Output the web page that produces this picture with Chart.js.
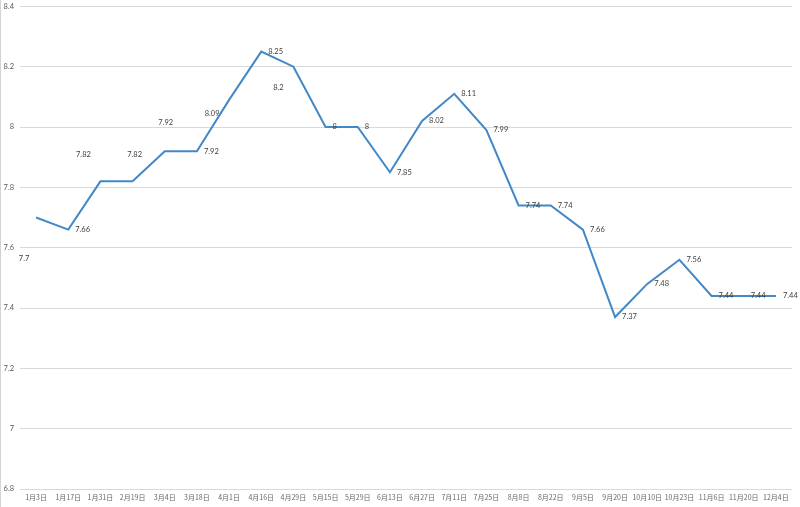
<!DOCTYPE html>
<html>
<head>
<meta charset="utf-8">
<script src="https://cdn.jsdelivr.net/npm/chart.js@4"></script>
<style>
  html, body { margin: 0; padding: 0; background: #fff; }
  canvas { display: block; }
</style>
</head>
<body>
<canvas id="myChart01" width="800" height="507"></canvas>
<script>
const dates = ['1月3日', '1月17日', '1月31日', '2月19日', '3月4日', '3月18日', '4月1日', '4月16日',
    '4月29日', '5月15日', '5月29日', '6月13日', '6月27日', '7月11日', '7月25日', '8月8日',
    '8月22日', '9月5日', '9月20日', '10月10日', '10月23日', '11月6日', '11月20日', '12月4日'];
const rates = [7.7, 7.66, 7.82, 7.82, 7.92, 7.92, 8.09, 8.25, 8.2, 8, 8, 7.85,
    8.02, 8.11, 7.99, 7.74, 7.74, 7.66, 7.37, 7.48, 7.56, 7.44, 7.44, 7.44];
const yTicks = [6.8, 7, 7.2, 7.4, 7.6, 7.8, 8, 8.2, 8.4];

// label placement like the excel chart: most sit to the right, a few are moved
const labelMoves = {
    0: { dx: -12, dy: 41, align: 'center' },
    2: { dx: -17, dy: -27, align: 'center' },
    3: { dx: 2, dy: -27, align: 'center' },
    4: { dx: 1, dy: -29, align: 'center' },
    6: { dx: -17, dy: 14, align: 'center' },
    8: { dx: -15, dy: 21, align: 'center' }
};

const valueLabels = {
    id: 'valueLabels',
    beforeDraw(chart) {
        const c = chart.ctx;
        c.save();
        c.fillStyle = '#d4d4d4';
        c.fillRect(0, 0, 1, chart.height);
        c.restore();
    },
    afterDatasetsDraw(chart) {
        const c = chart.ctx;
        const meta = chart.getDatasetMeta(0);
        c.save();
        c.font = "7.5px Lato";
        c.fillStyle = '#404040';
        c.textBaseline = 'middle';
        meta.data.forEach((pt, i) => {
            const m = labelMoves[i] || { dx: 7, dy: 0, align: 'left' };
            c.textAlign = m.align;
            c.fillText(String(rates[i]), pt.x + m.dx, pt.y + m.dy);
        });
        c.restore();
    }
};

const ctx01 = document.getElementById('myChart01').getContext('2d');
const myChart01 = new Chart(ctx01, {
    type: 'line',
    data: {
        labels: dates,
        datasets: [
            {
                label: 'rate',
                data: rates,
                borderColor: '#4388c6',
                backgroundColor: '#4388c6',
                borderWidth: 2,
                pointRadius: 0,
                tension: 0
            }
        ]
    },
    options: {
        responsive: false,
        animation: false,
        layout: { padding: { left: 0, right: 8, top: 5, bottom: 0 } },
        plugins: {
            legend: { display: false },
            tooltip: { enabled: false }
        },
        scales: {
            x: {
                offset: true,
                grid: { display: false, drawTicks: false },
                border: { display: false },
                ticks: {
                    autoSkip: false,
                    maxRotation: 0,
                    padding: 4,
                    color: '#666666',
                    font: { size: 7, family: "'Noto Sans CJK SC'" }
                },
                afterFit(s) { s.height = 18; }
            },
            y: {
                min: 6.8,
                max: 8.4,
                afterBuildTicks(s) { s.ticks = yTicks.map(v => ({ value: v })); },
                grid: { color: '#d9d9d9', lineWidth: 1, drawTicks: false },
                border: { display: false },
                ticks: {
                    padding: 6,
                    color: '#595959',
                    font: { size: 7.5, family: 'Lato', lineHeight: 0.1 },
                    callback: v => String(Number(v.toFixed(1)))
                },
                afterFit(s) { s.width = 20; }
            }
        }
    },
    plugins: [valueLabels]
});
</script>
</body>
</html>
